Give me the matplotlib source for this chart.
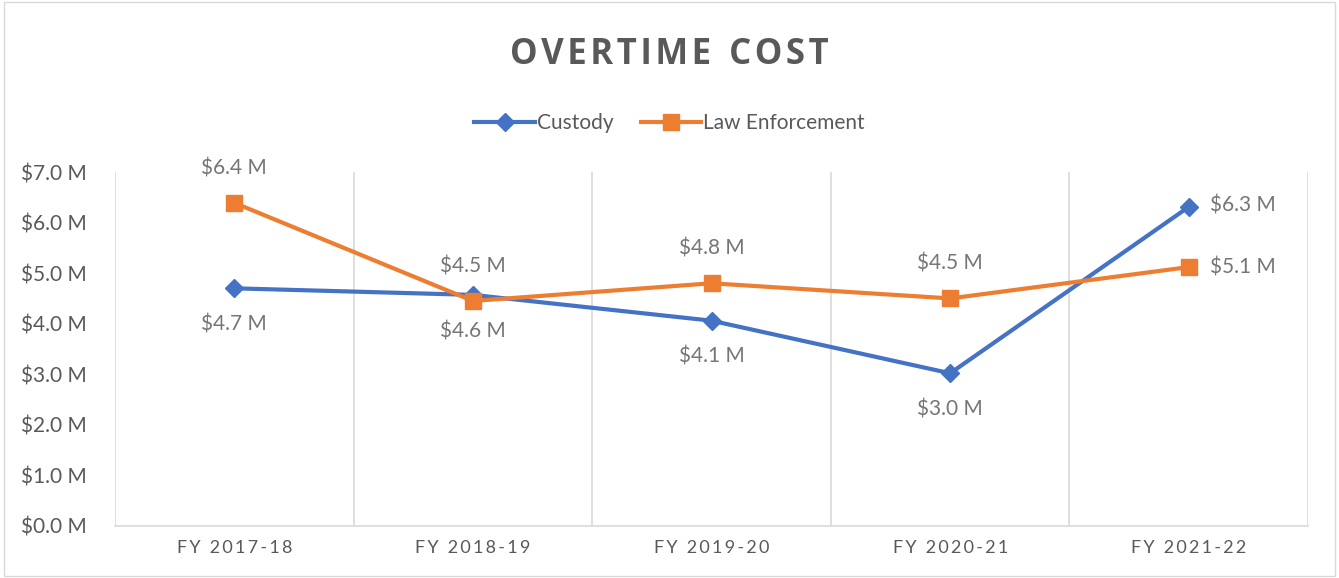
import matplotlib.pyplot as plt
from matplotlib.patches import Rectangle

years = ["FY 2017-18", "FY 2018-19", "FY 2019-20", "FY 2020-21", "FY 2021-22"]
custody = [4.70, 4.57, 4.06, 3.02, 6.31]
law_enf = [6.39, 4.45, 4.80, 4.50, 5.12]
custody_lbl = ["$4.7 M", "$4.6 M", "$4.1 M", "$3.0 M", "$6.3 M"]
law_lbl = ["$6.4 M", "$4.5 M", "$4.8 M", "$4.5 M", "$5.1 M"]

blue = "#4472C4"
orange = "#ED7D31"
txt = "#595959"
lblc = "#767676"
grid = "#D9D9D9"

plt.rcParams['font.family'] = ['Lato', 'DejaVu Sans']

fig = plt.figure(figsize=(13.39, 5.78), dpi=100)
fig.patches.append(Rectangle((0.003, 0.003), 0.994, 0.994, transform=fig.transFigure,
                             fill=False, edgecolor=grid, lw=1))
ax = fig.add_axes([0.0859, 0.090, 0.8910, 0.6124])

x = list(range(len(years)))
ax.plot(x, custody, color=blue, lw=3, marker='D', ms=9, label='Custody', zorder=3)
ax.plot(x, law_enf, color=orange, lw=3, marker='s', ms=12, label='Law Enforcement', zorder=3)

fs = 15
for i in x:
    if i == len(x) - 1:
        ax.annotate(custody_lbl[i], (i, custody[i]), xytext=(15, 1), textcoords='offset points',
                    ha='left', va='center', color=lblc, fontsize=fs)
        ax.annotate(law_lbl[i], (i, law_enf[i]), xytext=(15, 0), textcoords='offset points',
                    ha='left', va='center', color=lblc, fontsize=fs)
    else:
        ax.annotate(custody_lbl[i], (i, custody[i]), xytext=(0, -26), textcoords='offset points',
                    ha='center', va='center', color=lblc, fontsize=fs)
        ax.annotate(law_lbl[i], (i, law_enf[i]), xytext=(0, 25), textcoords='offset points',
                    ha='center', va='center', color=lblc, fontsize=fs)

ax.set_xlim(-0.5, 4.5)
ax.set_ylim(0, 7)
ax.set_yticks(range(8))
ax.set_yticklabels(["$%.1f M" % v for v in range(8)], fontsize=fs, color=txt)
ax.set_xticks(x)
ax.set_xticklabels(["\u2009".join(y) for y in years], fontsize=13, color=txt)
for b in [-0.5, 0.5, 1.5, 2.5, 3.5, 4.5]:
    ax.axvline(b, color=grid, lw=1.2, zorder=0)
for s in ['top', 'right', 'left']:
    ax.spines[s].set_visible(False)
ax.spines['bottom'].set_color(grid)
ax.spines['bottom'].set_linewidth(1.2)
ax.tick_params(length=0, pad=10)
ax.tick_params(axis='y', pad=20)

fig.text(0.5, 0.905, "O V E R T I M E   C O S T".replace(" ", "\u200a").replace("\u200a\u200a\u200a", "  "),
         ha='center', va='center', fontsize=25, fontweight='bold', color=txt,
         family=['Open Sans', 'DejaVu Sans'])
fig.legend(loc='center', bbox_to_anchor=(0.5, 0.787), ncol=2, frameon=False, fontsize=fs,
           labelcolor=txt, handlelength=2.9, handletextpad=0.1, columnspacing=1.3)

fig.savefig("out.png", dpi=100)
